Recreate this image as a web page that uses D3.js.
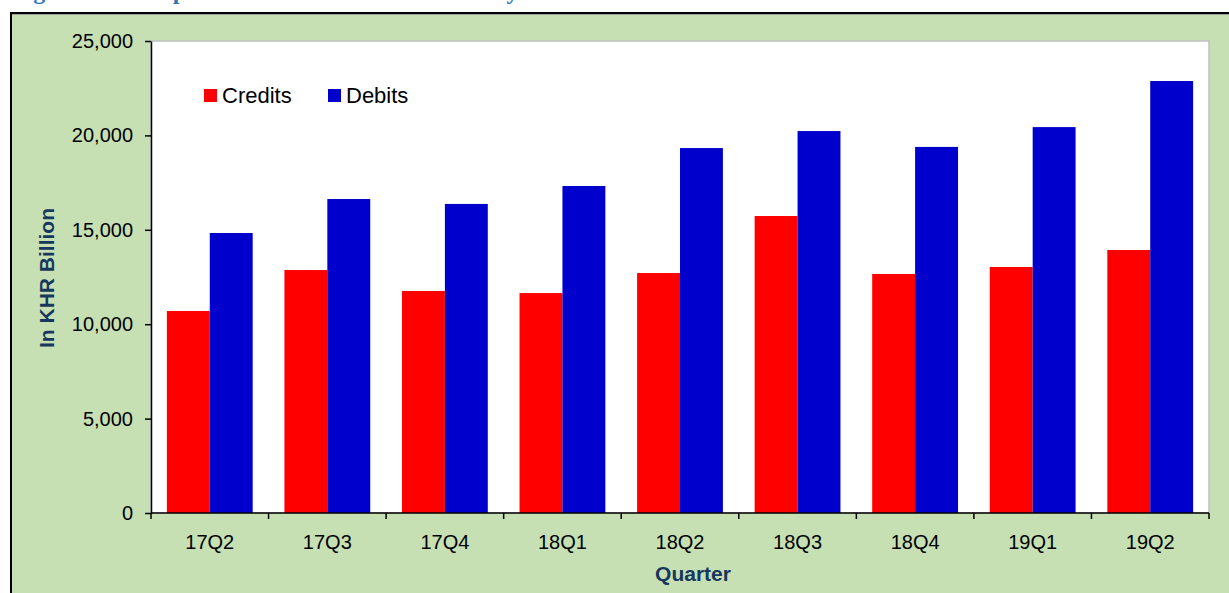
<!DOCTYPE html>
<html>
<head>
<meta charset="utf-8">
<script src="https://cdn.jsdelivr.net/npm/d3@7"></script>
<style>
  html, body { margin: 0; padding: 0; background: #ffffff; }
  svg { display: block; }
</style>
</head>
<body>
<svg id="chart" width="1229" height="593"></svg>
<script>
const categories = ["17Q2", "17Q3", "17Q4", "18Q1", "18Q2", "18Q3", "18Q4", "19Q1", "19Q2"];
const seriesNames = ["Credits", "Debits"];
const credits = [10700, 12870, 11760, 11650, 12710, 15730, 12660, 13030, 13930];
const debits = [14830, 16630, 16370, 17320, 19330, 20230, 19390, 20440, 22880];
const yTicks = [0, 5000, 10000, 15000, 20000, 25000];
const colors = {"Credits": "#FF0000", "Debits": "#0000CC"};

const rows = categories.map((c, i) => ({cat: c, Credits: credits[i], Debits: debits[i]}));

const W = 1229, H = 593;
const plot = {left: 151, top: 41, right: 1209, bottom: 513};
const svg = d3.select("#chart");

// title (cut off at the top edge in the reference: only descenders visible)
svg.append("text")
  .attr("x", 12).attr("y", -1.5)
  .attr("font-family", "Liberation Serif, serif")
  .attr("font-weight", "bold")
  .attr("font-size", 24)
  .attr("fill", "#2E75B6")
  .text("Figure 15: Comparison of Credits and Debits Payments");

// outer frame
svg.append("rect")
  .attr("x", 11).attr("y", 13)
  .attr("width", W + 20).attr("height", H + 20)
  .attr("fill", "#C6E0B4")
  .attr("stroke", "#000").attr("stroke-width", 2);
svg.append("line")
  .attr("x1", 12).attr("x2", W).attr("y1", 14.5).attr("y2", 14.5)
  .attr("stroke", "#a0a0a0").attr("stroke-width", 1);

// plot area
svg.append("rect")
  .attr("x", plot.left).attr("y", plot.top)
  .attr("width", plot.right - plot.left).attr("height", plot.bottom - plot.top)
  .attr("fill", "#ffffff")
  .attr("stroke", "#c0c0c0").attr("stroke-width", 1.5);

const x0 = d3.scaleBand().domain(categories)
  .range([plot.left, plot.right])
  .paddingInner(0.27).paddingOuter(0.135);
const x1 = d3.scaleBand().domain(seriesNames).range([0, x0.bandwidth()]).padding(0);
const y = d3.scaleLinear().domain([0, 25000]).range([plot.bottom, plot.top]);

// bars
const g = svg.append("g");
g.selectAll("g.cat").data(rows).join("g")
  .attr("class", "cat")
  .attr("transform", d => `translate(${x0(d.cat)},0)`)
  .selectAll("rect").data(d => seriesNames.map(s => ({s, v: d[s]}))).join("rect")
  .attr("x", d => x1(d.s))
  .attr("width", x1.bandwidth())
  .attr("y", d => y(d.v))
  .attr("height", d => y(0) - y(d.v))
  .attr("fill", d => colors[d.s]);

// y axis
const yAxis = d3.axisLeft(y).tickValues(yTicks).tickFormat(d3.format(","))
  .tickSize(6).tickSizeOuter(0).tickPadding(12);
const yg = svg.append("g").attr("transform", `translate(${plot.left},0)`).call(yAxis);
yg.select(".domain").attr("stroke", "#000").attr("stroke-width", 1.5);
yg.selectAll(".tick line").attr("stroke", "#000").attr("stroke-width", 1.5);
yg.selectAll("text").attr("font-family", "Liberation Sans, Arial, sans-serif")
  .attr("font-size", 20).attr("fill", "#000");

// x axis: labels at band centres, ticks at boundaries
const xAxis = d3.axisBottom(x0).tickSize(0).tickPadding(22).tickSizeOuter(0);
const xg = svg.append("g").attr("transform", `translate(0,${plot.bottom})`).call(xAxis);
xg.select(".domain").remove();
xg.selectAll("text").attr("font-family", "Liberation Sans, Arial, sans-serif")
  .attr("font-size", 20).attr("fill", "#000");
svg.append("line")
  .attr("x1", plot.left).attr("x2", plot.right)
  .attr("y1", plot.bottom).attr("y2", plot.bottom)
  .attr("stroke", "#000").attr("stroke-width", 1.5);
const bounds = d3.range(categories.length + 1).map(i => plot.left + i * x0.step());
svg.selectAll("line.xtick").data(bounds).join("line")
  .attr("class", "xtick")
  .attr("x1", d => d).attr("x2", d => d)
  .attr("y1", plot.bottom).attr("y2", plot.bottom + 6)
  .attr("stroke", "#000").attr("stroke-width", 1.5);

// axis titles
svg.append("text")
  .attr("transform", `translate(54,${(plot.top + plot.bottom) / 2 + 1}) rotate(-90)`)
  .attr("text-anchor", "middle")
  .attr("font-family", "Liberation Sans, Arial, sans-serif")
  .attr("font-weight", "bold").attr("font-size", 21)
  .attr("fill", "#17375E")
  .text("In KHR Billion");
svg.append("text")
  .attr("x", (plot.left + plot.right) / 2 + 13).attr("y", 581)
  .attr("text-anchor", "middle")
  .attr("font-family", "Liberation Sans, Arial, sans-serif")
  .attr("font-weight", "bold").attr("font-size", 21)
  .attr("fill", "#17375E")
  .text("Quarter");

// legend
const legendPos = [{s: "Credits", x: 204}, {s: "Debits", x: 328}];
const lg = svg.append("g");
legendPos.forEach(p => {
  lg.append("rect").attr("x", p.x).attr("y", 89).attr("width", 13).attr("height", 13)
    .attr("fill", colors[p.s]);
  lg.append("text").attr("x", p.x + 18).attr("y", 103)
    .attr("font-family", "Liberation Sans, Arial, sans-serif")
    .attr("font-size", 22).attr("fill", "#000")
    .text(p.s);
});
</script>
</body>
</html>
